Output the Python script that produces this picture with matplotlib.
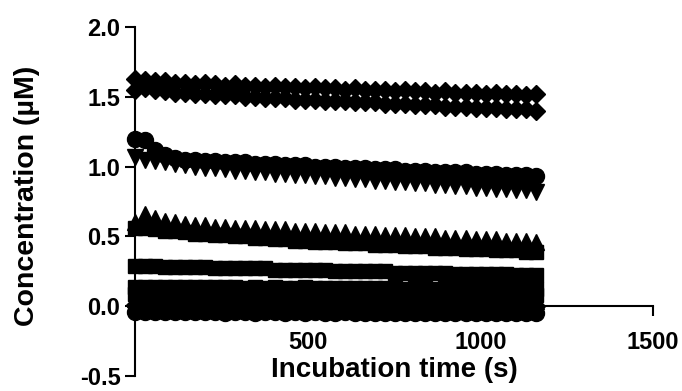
import numpy as np
import matplotlib
matplotlib.use("Agg")
from matplotlib import pyplot as plt

plt.rcParams['font.family'] = ['Liberation Sans', 'DejaVu Sans']
plt.rcParams['font.weight'] = 'bold'

# sampling times (s)
time = np.arange(0, 1161, 29)

# concentrations (uM), one list per trace
dia_hi = [1.63, 1.62, 1.61, 1.61, 1.60, 1.60, 1.59, 1.60, 1.59, 1.58, 1.59, 1.58, 1.58, 1.57,
          1.58, 1.57, 1.57, 1.56, 1.57, 1.56, 1.56, 1.55, 1.56, 1.55, 1.55, 1.55, 1.54, 1.55,
          1.54, 1.54, 1.53, 1.54, 1.53, 1.53, 1.53, 1.52, 1.53, 1.52, 1.52, 1.51, 1.52]
dia_lo = [1.55, 1.56, 1.55, 1.54, 1.53, 1.53, 1.52, 1.52, 1.51, 1.51, 1.51, 1.50, 1.50, 1.49,
          1.49, 1.49, 1.48, 1.48, 1.48, 1.47, 1.47, 1.47, 1.46, 1.46, 1.46, 1.45, 1.45, 1.45,
          1.44, 1.44, 1.44, 1.43, 1.43, 1.43, 1.42, 1.42, 1.42, 1.41, 1.41, 1.41, 1.40]
circ_hi = [1.20, 1.19, 1.12, 1.08, 1.06, 1.05, 1.05, 1.04, 1.04, 1.03, 1.03, 1.03, 1.02, 1.02,
           1.02, 1.01, 1.01, 1.01, 1.00, 1.00, 1.00, 0.99, 0.99, 0.99, 0.98, 0.98, 0.98, 0.97,
           0.97, 0.97, 0.96, 0.96, 0.96, 0.96, 0.95, 0.95, 0.95, 0.94, 0.94, 0.94, 0.93]
inv_hi = [1.07, 1.05, 1.04, 1.03, 1.02, 1.01, 1.00, 0.99, 0.99, 0.98, 0.97, 0.97, 0.96, 0.96,
          0.95, 0.95, 0.94, 0.94, 0.93, 0.93, 0.92, 0.92, 0.91, 0.91, 0.90, 0.90, 0.89, 0.89,
          0.88, 0.88, 0.87, 0.87, 0.86, 0.86, 0.85, 0.85, 0.84, 0.84, 0.83, 0.83, 0.82]
tri_mid = [0.60, 0.66, 0.63, 0.61, 0.60, 0.59, 0.58, 0.58, 0.57, 0.57, 0.56, 0.56, 0.56, 0.55,
           0.55, 0.55, 0.54, 0.54, 0.54, 0.53, 0.53, 0.53, 0.52, 0.52, 0.52, 0.51, 0.51, 0.51,
           0.50, 0.50, 0.50, 0.49, 0.49, 0.49, 0.48, 0.48, 0.48, 0.47, 0.47, 0.47, 0.46]
sq_mid = [0.56, 0.56, 0.55, 0.54, 0.54, 0.53, 0.52, 0.52, 0.51, 0.51, 0.50, 0.50, 0.49, 0.49,
          0.48, 0.48, 0.47, 0.47, 0.46, 0.46, 0.46, 0.45, 0.45, 0.45, 0.44, 0.44, 0.44, 0.43,
          0.43, 0.43, 0.42, 0.42, 0.42, 0.41, 0.41, 0.41, 0.40, 0.40, 0.40, 0.39, 0.39]
sq_low = [0.29, 0.29, 0.29, 0.28, 0.28, 0.28, 0.28, 0.28, 0.27, 0.27, 0.27, 0.27, 0.27, 0.27,
          0.26, 0.26, 0.26, 0.26, 0.26, 0.26, 0.25, 0.25, 0.25, 0.25, 0.25, 0.25, 0.24, 0.24,
          0.24, 0.24, 0.24, 0.24, 0.23, 0.23, 0.23, 0.23, 0.23, 0.23, 0.22, 0.22, 0.22]
sq_top = [0.14, 0.14, 0.14, 0.14, 0.14, 0.14, 0.14, 0.14, 0.14, 0.14, 0.14, 0.13, 0.14, 0.13,
          0.14, 0.13, 0.13, 0.14, 0.13, 0.13, 0.13, 0.13, 0.13, 0.13, 0.13, 0.13, 0.13, 0.12,
          0.13, 0.13, 0.12, 0.13, 0.12, 0.12, 0.13, 0.12, 0.12, 0.12, 0.12, 0.12, 0.12]
sq_base = [0.09, 0.09, 0.09, 0.09, 0.09, 0.09, 0.09, 0.09, 0.09, 0.08, 0.09, 0.09, 0.09, 0.08,
           0.09, 0.08, 0.09, 0.08, 0.08, 0.09, 0.08, 0.08, 0.08, 0.08, 0.08, 0.08, 0.08, 0.08,
           0.08, 0.08, 0.08, 0.08, 0.08, 0.08, 0.08, 0.08, 0.08, 0.08, 0.08, 0.08, 0.08]
tri_base = [0.05, 0.05, 0.05, 0.05, 0.05, 0.05, 0.05, 0.04, 0.05, 0.05, 0.04, 0.05, 0.05, 0.04,
            0.05, 0.04, 0.04, 0.05, 0.04, 0.04, 0.04, 0.04, 0.04, 0.04, 0.04, 0.04, 0.04, 0.04,
            0.04, 0.04, 0.04, 0.04, 0.04, 0.04, 0.04, 0.04, 0.04, 0.04, 0.04, 0.04, 0.04]
dia_base = [0.01, 0.01, 0.01, 0.01, 0.01, 0.01, 0.01, 0.01, 0.01, 0.01, 0.01, 0.00, 0.01, 0.01,
            0.00, 0.01, 0.00, 0.01, 0.00, 0.00, 0.01, 0.00, 0.00, 0.00, 0.00, 0.00, 0.00, 0.00,
            0.00, 0.00, 0.00, 0.00, 0.00, 0.00, 0.00, 0.00, 0.00, 0.00, 0.00, 0.00, 0.00]
circ_base = [-0.04, -0.04, -0.04, -0.04, -0.04, -0.04, -0.04, -0.04, -0.04, -0.05, -0.04, -0.04,
             -0.05, -0.04, -0.04, -0.05, -0.04, -0.05, -0.04, -0.05, -0.05, -0.04, -0.05, -0.05,
             -0.05, -0.05, -0.05, -0.05, -0.05, -0.05, -0.05, -0.05, -0.05, -0.05, -0.05, -0.05,
             -0.05, -0.05, -0.05, -0.05, -0.05]

traces = [(dia_hi, 'D', 9.5), (dia_lo, 'D', 9.5), (circ_hi, 'o', 11.5), (inv_hi, 'v', 11.5),
          (tri_mid, '^', 11.5), (sq_mid, 's', 10.5), (sq_low, 's', 10.5), (sq_top, 's', 10.5),
          (sq_base, 's', 10.5), (tri_base, '^', 11.5), (dia_base, 'D', 9.5), (circ_base, 'o', 11.5)]

fig = plt.figure(figsize=(6.82, 3.91), dpi=100)
ax = fig.add_axes([0.198, 0.0384, 0.7595, 0.8926])

for vals, mk, ms in traces:
    ax.plot(time, vals, linestyle='none', marker=mk, markersize=ms,
            color='black', markeredgecolor='black', clip_on=False)

ax.set_xlim(0, 1500)
ax.set_ylim(-0.5, 2.0)
ax.set_xticks([500, 1000, 1500])
ax.set_yticks(np.arange(-0.5, 2.01, 0.5))
ax.set_yticklabels(['%.1f' % v for v in np.arange(-0.5, 2.01, 0.5)])

ax.spines['top'].set_visible(False)
ax.spines['right'].set_visible(False)
ax.spines['bottom'].set_position(('data', 0))
for s in ['left', 'bottom']:
    ax.spines[s].set_linewidth(1.5)
ax.tick_params(axis='both', direction='out', length=7, width=1.5, labelsize=17)
ax.tick_params(axis='x', pad=11)
ax.tick_params(axis='y', pad=3.5)

ax.set_xlabel('Incubation time (s)', fontsize=20, fontweight='bold')
ax.xaxis.set_label_coords(0.5, 0.054)
ax.set_ylabel('Concentration (µM)', fontsize=20.5, fontweight='bold')
ax.yaxis.set_label_coords(-0.183, 0.515)

plt.savefig('out.png', dpi=100)
